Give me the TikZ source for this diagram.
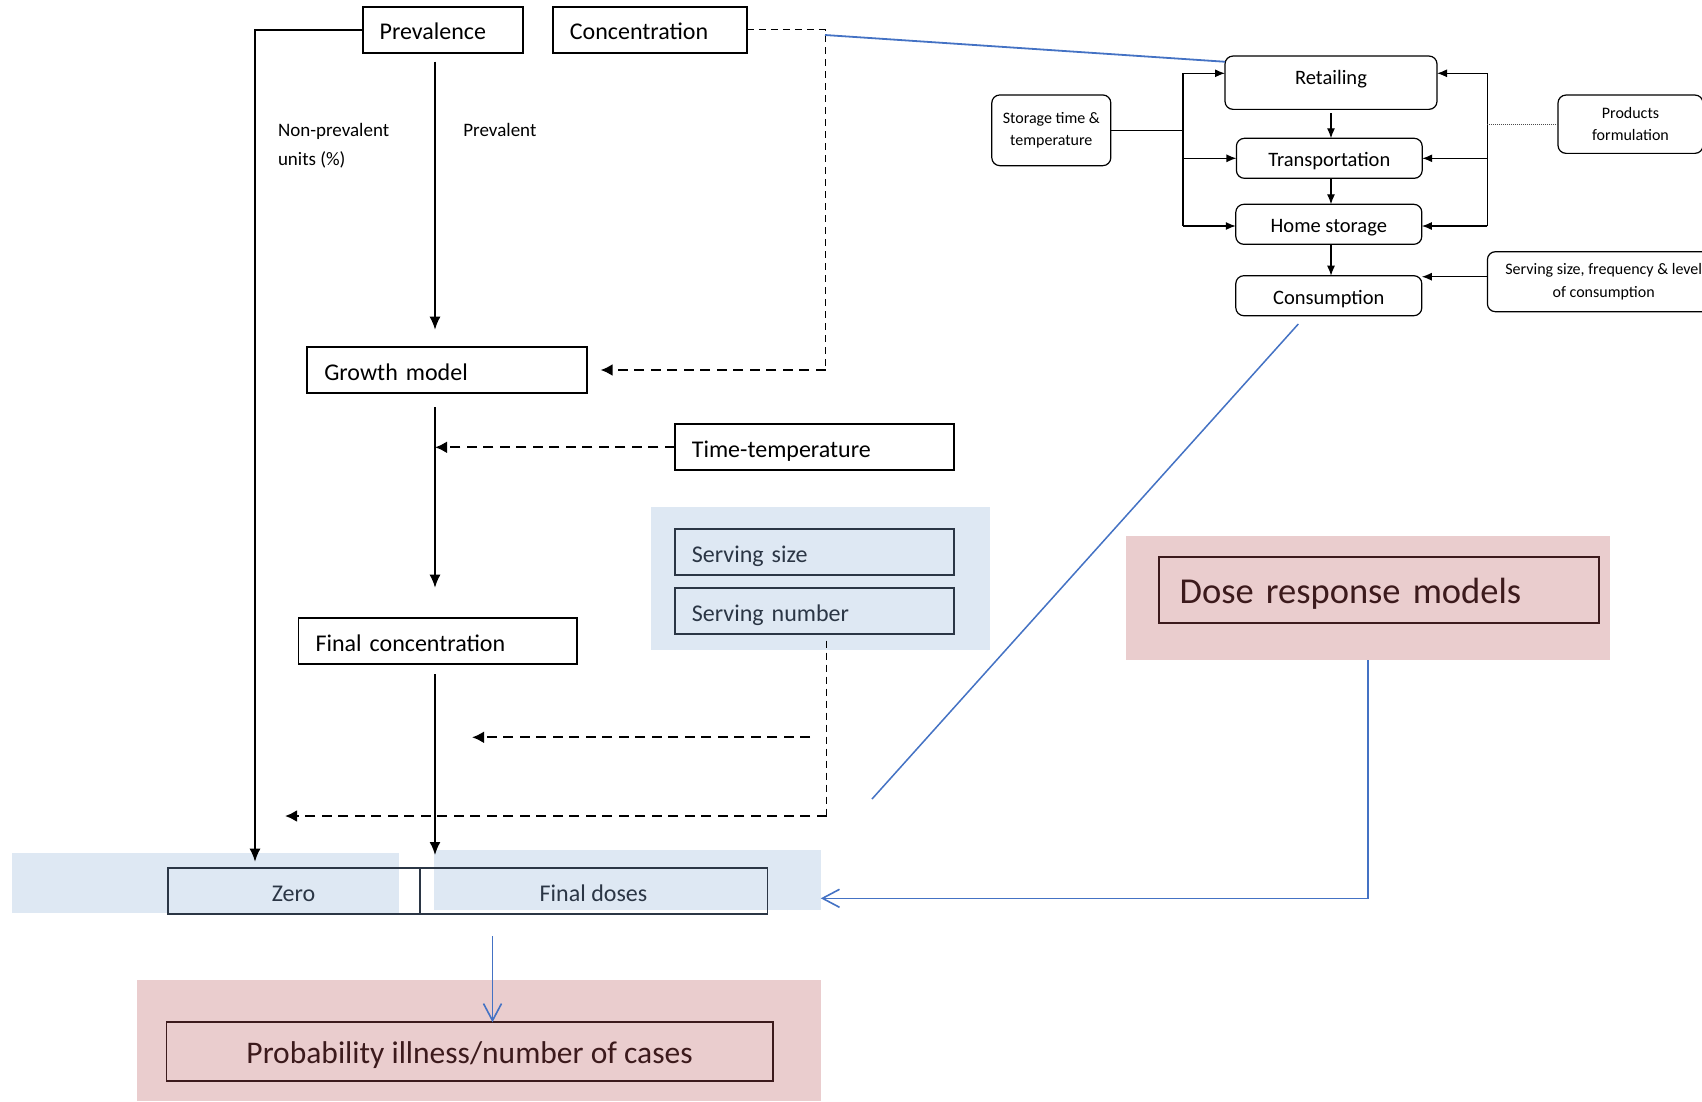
\documentclass[tikz,border=0pt]{standalone}
\usepackage{fontspec}
\setmainfont{Carlito}
\usetikzlibrary{arrows.meta,calc}
\definecolor{bgblue}{HTML}{DEE8F3}
\definecolor{bgpink}{HTML}{EACDCE}
\definecolor{lineblue}{HTML}{4472C4}
\definecolor{darkbrown}{HTML}{3C1A1C}
\definecolor{slate}{HTML}{2B3645}
\begin{document}
\begin{tikzpicture}[x=1pt,y=-1pt,
 every node/.style={inner sep=0pt,outer sep=0pt},
 mainbox/.style={draw,line width=1.8pt,minimum height=46pt,inner xsep=17pt,align=left,font=\fontsize{24}{29}\selectfont,text height=24pt,text depth=4pt},
 bluebox/.style={mainbox,draw=slate,text=slate,fill=bgblue},
 midbox/.style={draw=slate,line width=1.8pt,minimum height=46.6pt,align=center,font=\fontsize{24}{29}\selectfont,text=slate,text height=24pt,text depth=4pt},
 pinkbox/.style={draw=darkbrown,line width=1.8pt,text=darkbrown},
 bgrect/.style={fill=#1,draw=none},
 rbox/.style={draw,line width=1.2pt,rounded corners=8pt,align=center},
 flowfont/.style={font=\fontsize{20.5}{24}\selectfont},
 smallfont/.style={font=\fontsize{16}{22.5}\selectfont},
 lbl/.style={font=\fontsize{19}{29}\selectfont,anchor=west},
 arr/.style={line width=1.7pt,-{Latex[length=13pt,width=11pt]}},
 dasharr/.style={line width=2.3pt,dash pattern=on 10pt off 6.5pt,-{Latex[length=12pt,width=12pt]}},
 thindash/.style={line width=1.5pt,dash pattern=on 7pt off 5pt},
 sline/.style={line width=1.2pt},
 smarr/.style={line width=1.2pt,-{Latex[length=10pt,width=8pt]}},
 dotline/.style={line width=0.8pt,draw=black!70,dash pattern=on 1pt off 1pt},
 blueline/.style={draw=lineblue,line width=1.8pt},
 bluearr/.style={draw=lineblue,line width=1.6pt,-{Straight Barb[length=17pt,width=18pt]}}
]
\clip (0,0) rectangle (1702,1101);
\fill[white] (0,0) rectangle (1702,1101);

% backgrounds
\node[bgrect=bgblue,minimum width=339.2pt,minimum height=142.7pt] (sbg) at (820.2,578.35) {};
\node[bgrect=bgblue,minimum width=387pt,minimum height=60pt] (zerobg) at (205.5,882.7) {};
\node[bgrect=bgblue,minimum width=386.8pt,minimum height=60pt] (fdbg) at (627.4,880) {};
\node[bgrect=bgpink,minimum width=483.7pt,minimum height=124pt] (dosebg) at (1367.85,598) {};
\node[bgrect=bgpink,minimum width=684.2pt,minimum height=121pt] (probbg) at (478.7,1040.5) {};

% main boxes
\node[mainbox,minimum width=160.4pt,text width=126.4pt] (prev) at (442.8,29.7) {Prevalence};
\node[mainbox,minimum width=194.1pt,text width=160.1pt] (conc) at (649.9,29.7) {Concentration};
\node[mainbox,minimum height=46.6pt,minimum width=279.7pt,text width=245.7pt] (growth) at (447.2,370) {Growth model};
\node[mainbox,minimum width=279.3pt,text width=245.3pt] (tt) at (814.5,447.3) {Time-temperature};
\node[bluebox,minimum width=279.3pt,text width=245.3pt] (ssize) at (814.5,552) {Serving size};
\node[bluebox,minimum width=279.3pt,text width=245.3pt] (snum) at (814.5,611.3) {Serving number};
\node[mainbox,minimum height=46.6pt,minimum width=278.7pt,text width=244.7pt] (finalc) at (437.9,641) {Final concentration};
\node[midbox,minimum width=252pt] (zero) at (293.6,891) {Zero};
\node[midbox,minimum width=347.8pt] (fdoses) at (593.5,891) {Final doses};
\node[pinkbox,minimum width=606.1pt,minimum height=58.4pt,font=\fontsize{31.5}{38}\selectfont,text height=29.8pt,text depth=6pt] (prob) at (469.6,1051.5) {Probability illness/number of cases};
\node[pinkbox,minimum width=440.2pt,minimum height=66pt,inner xsep=21pt,text width=398.2pt,align=left,font=\fontsize{36.5}{44}\selectfont,text height=33.5pt,text depth=6pt] (dose) at (1378.7,589.7) {Dose response models};

% right flowchart
\node[rbox,flowfont,minimum width=212pt,minimum height=53.3pt,text height=14pt,text depth=9.6pt] (retail) at (1331,82.7) {Retailing};
\node[rbox,flowfont,minimum width=185.8pt,minimum height=40pt,text height=20pt,text depth=3.4pt] (transp) at (1329.3,158.3) {Transportation};
\node[rbox,flowfont,minimum width=186pt,minimum height=40pt,text height=20pt,text depth=3.4pt] (home) at (1328.8,224.3) {Home storage};
\node[rbox,flowfont,minimum width=186pt,minimum height=40pt,text height=20pt,text depth=3.4pt] (consum) at (1328.8,295.7) {Consumption};
\node[rbox,smallfont,minimum width=119pt,minimum height=70.7pt] (storage) at (1051.3,130.3) {Storage time \&\\temperature};
\node[rbox,smallfont,minimum width=145pt,minimum height=58.3pt] (products) at (1630.5,124.2) {Products\\formulation};
\node[rbox,smallfont,minimum width=232.6pt,minimum height=60pt] (sfreq) at (1603.7,281.7) {Serving size, frequency \& level\\of consumption};

% labels
\node[lbl] (npa) at (278,131) {Non-prevalent};
\node[lbl] (npb) at (278,160) {units (\%)};
\node[lbl] (prevlbl) at (463.4,130) {Prevalent};

% coordinates
\coordinate (colx) at (435,0);
\coordinate (col2) at (492.5,0);
\coordinate (dcol) at (825.5,0);
\coordinate (sd) at (826.6,816);
\coordinate (sdend) at (285,816);
\coordinate (dfa) at (810,737.3);
\coordinate (dfb) at (472,737.3);
\coordinate (bstart) at (825,35);
\coordinate (cend) at (872,799);
\coordinate (rx) at (1331,0);
\coordinate (lbt) at (1183,73.3);
\coordinate (lbb) at (1183,226);
\coordinate (rbt) at (1487.4,73.3);
\coordinate (rbb) at (1487.4,226);
\coordinate (sfa) at ([yshift=5pt]sfreq.west);

% main connectors
\draw[arr,shorten >=6pt] (prev.west) -| ([xshift=-38.6pt]zero.north);
\draw[arr,shorten <=9pt,shorten >=17pt] (prev.south -| colx) -- (growth.north -| colx);
\draw[arr,shorten <=13.7pt,shorten >=30pt] (growth.south -| colx) -- (finalc.north -| colx);
\draw[arr,shorten <=9.7pt,shorten >=12.7pt] (finalc.south -| colx) -- (fdoses.north -| colx);

\draw[thindash] (conc.east) -- (conc.east -| dcol) -- (growth.east -| dcol);
\draw[dasharr,shorten >=13.5pt] (growth.east -| dcol) -- (growth.east);
\draw[dasharr] (tt.west) -- (tt.west -| colx);
\draw[thindash,shorten <=6.4pt] (snum.south -| sd) -- (sd);
\draw[dasharr] (sd) -- (sdend);
\draw[dasharr] (dfa) -- (dfb);

% blue connectors
\draw[blueline] (bstart) -- ([yshift=-5.7pt]retail.north west);
\draw[blueline,line width=1.5pt] ([xshift=-30.5pt,yshift=-8.3pt]consum.south) -- (cend);
\draw[bluearr] (dosebg.south) |- ([yshift=-18.3pt]fdbg.east);
\draw[bluearr,shorten <=21.7pt] (fdoses.south -| col2) -- (prob.north -| col2);

% right flowchart connectors
\draw[smarr,shorten <=3.7pt] (retail.south -| rx) -- (transp.north -| rx);
\draw[smarr] (transp.south -| rx) -- (home.north -| rx);
\draw[smarr] (home.south -| rx) -- (consum.north -| rx);
\draw[sline] (lbt) -- (lbb);
\draw[sline] (storage.east) -- (storage.east -| lbt);
\draw[smarr] (lbt) -- (lbt -| retail.west);
\draw[smarr] (transp.west -| lbt) -- (transp.west);
\draw[smarr] (lbb) -- (lbb -| home.west);
\draw[sline] (rbt) -- (rbb);
\draw[smarr] (rbt) -- (rbt -| retail.east);
\draw[smarr] (transp.east -| rbt) -- (transp.east);
\draw[smarr] (rbb) -- (rbb -| home.east);
\draw[dotline] (products.west) -- (products.west -| rbt);
\draw[smarr] (sfa) -- (sfa -| consum.east);
\end{tikzpicture}
\end{document}
